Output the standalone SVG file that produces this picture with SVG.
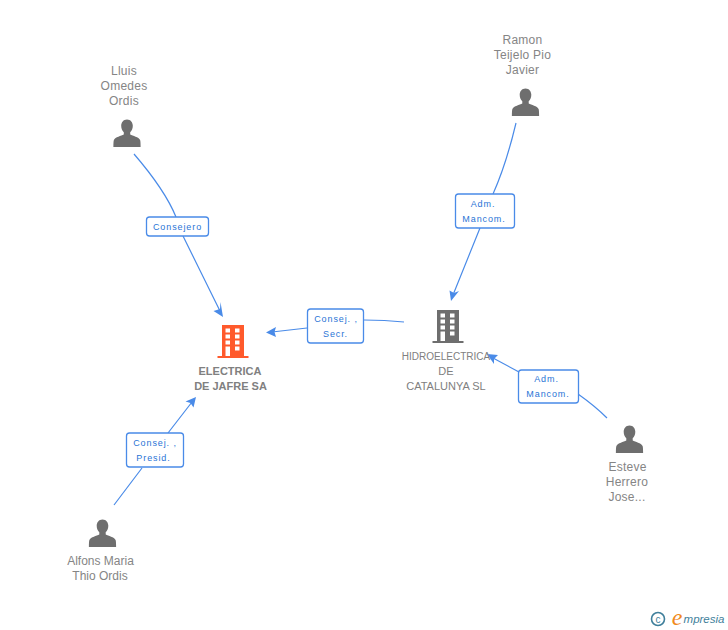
<svg xmlns="http://www.w3.org/2000/svg" width="728" height="630" viewBox="0 0 728 630">
<style>
text{font-family:"Liberation Sans",Arial,sans-serif;text-anchor:middle}
.n{font-size:12px;fill:#858585;letter-spacing:.25px}
.m{font-size:11px;fill:#808080}
.b{font-weight:bold;fill:#808080;font-size:11px}
.e{font-size:9px;fill:#2a74d6;letter-spacing:.9px}
.c{fill:none;stroke:#4a8be8;stroke-width:1.2}
.h{fill:#4a8be8}
.box{fill:#fff;stroke:#4a8be8;stroke-width:1.3}
.p{fill:#6e6e6e}
</style>
<defs>
<g id="person"><path d="M0-14.500c-3.700 0-5.800 3-5.800 6.200 0 2.600 1 5 2.600 6.600v2.200c-2.500 1.500-8.600 2.500-9.900 5.400-.4 1-.5 3.300-.5 7.100h27.200c0-3.800-.1-6.100-.5-7.100-1.300-2.900-7.400-3.900-9.900-5.400v-2.200c1.600-1.600 2.600-4 2.600-6.600 0-3.200-2.100-6.200-5.800-6.200z"/></g>
<g id="bld"><path fill-rule="evenodd" d="M-11-16h22v31h4.500v2h-31v-2h4.500zM-7.500-12.500v4h4.500v-4zM2-12.500v4h4.500v-4zM-7.500-6.500v4h4.500v-4zM2-6.500v4h4.500v-4zM-7.500-.5v4h4.500v-4zM2-.5v4h4.500v-4zM-7.500 5.500v9.500h4.500v-9.500zM2 5.500v4h4.500v-4z"/></g>
</defs>
<g id="connectors">
<path class="c" d="M134 154Q165 190 176 217M183 236L220 311"/>
<path class="h" d="M223 317L213.500 311L220 309L220.500 302z"/>
<path class="c" d="M516 123Q506 165 493 194M480 228L453 295"/>
<path class="h" d="M451 301L449.500 290.500L454 293L459 291z"/>
<path class="c" d="M404 322Q385 320 364 320M307 328L272 332"/>
<path class="h" d="M266 332.500L276 327L274.500 332L276 337z"/>
<path class="c" d="M607 418Q595 406 578 394M519 372L493 358"/>
<path class="h" d="M487 354L498 355L494 359L494 364z"/>
<path class="c" d="M114 505L142 468M168 433L192 402"/>
<path class="h" d="M196 397L193.500 407.500L190.500 403L185.500 401.500z"/>
</g>
<g id="n1"><use href="#person" x="127" y="134" class="p"/><text class="n" x="124" y="75">Lluis</text><text class="n" x="124" y="90">Omedes</text><text class="n" x="124" y="105">Ordis</text></g>
<g id="n2"><use href="#person" x="525.500" y="103" class="p"/><text class="n" x="522.500" y="44">Ramon</text><text class="n" x="522.500" y="59">Teijelo Pio</text><text class="n" x="522.500" y="74">Javier</text></g>
<g id="n3"><use href="#person" x="629.500" y="440" class="p"/><text class="n" x="627.500" y="471">Esteve</text><text class="n" x="627" y="486">Herrero</text><text class="n" x="627" y="501">Jose...</text></g>
<g id="n4"><use href="#person" x="102.500" y="534" class="p"/><text class="n" x="100.500" y="565" style="letter-spacing:0">Alfons Maria</text><text class="n" x="100" y="580" style="letter-spacing:0">Thio Ordis</text></g>
<g id="n5"><use href="#bld" x="233" y="341" fill="#ff5a2c"/><text class="b" x="230" y="375">ELECTRICA</text><text class="b" x="230.500" y="390">DE JAFRE SA</text></g>
<g id="n6"><use href="#bld" x="448" y="326" fill="#6e6e6e"/><text class="m" x="446" y="360" style="font-size:10px">HIDROELECTRICA</text><text class="m" x="446" y="375">DE</text><text class="m" x="446" y="390">CATALUNYA SL</text></g>
<g id="e1"><rect class="box" x="146.500" y="217" width="62" height="19" rx="3"/><text class="e" x="177.500" y="230">Consejero</text></g>
<g id="e2"><rect class="box" x="455.500" y="194" width="59" height="34" rx="3"/><text class="e" x="483" y="207">Adm.</text><text class="e" x="484" y="222">Mancom.</text></g>
<g id="e3"><rect class="box" x="307.500" y="309" width="56" height="34" rx="3"/><text class="e" x="336" y="322">Consej. ,</text><text class="e" x="335.500" y="337">Secr.</text></g>
<g id="e4"><rect class="box" x="518.500" y="370" width="60" height="33" rx="3"/><text class="e" x="546.500" y="382">Adm.</text><text class="e" x="548" y="397">Mancom.</text></g>
<g id="e5"><rect class="box" x="126.500" y="433" width="57" height="34" rx="3"/><text class="e" x="155" y="446">Consej. ,</text><text class="e" x="153.500" y="461">Presid.</text></g>
<g id="logo"><circle cx="658" cy="619" r="6.500" fill="none" stroke="#3f7f9b" stroke-width="1.600"/><text x="658" y="622.500" style="font-size:10px;fill:#3f7f9b">c</text><text x="677" y="625" style="font-family:'Liberation Serif',serif;font-style:italic;font-size:24px;fill:#f08a1d">e</text><text x="704" y="623" style="font-style:italic;font-size:11.500px;fill:#3f7f9b">mpresia</text></g>
</svg>
